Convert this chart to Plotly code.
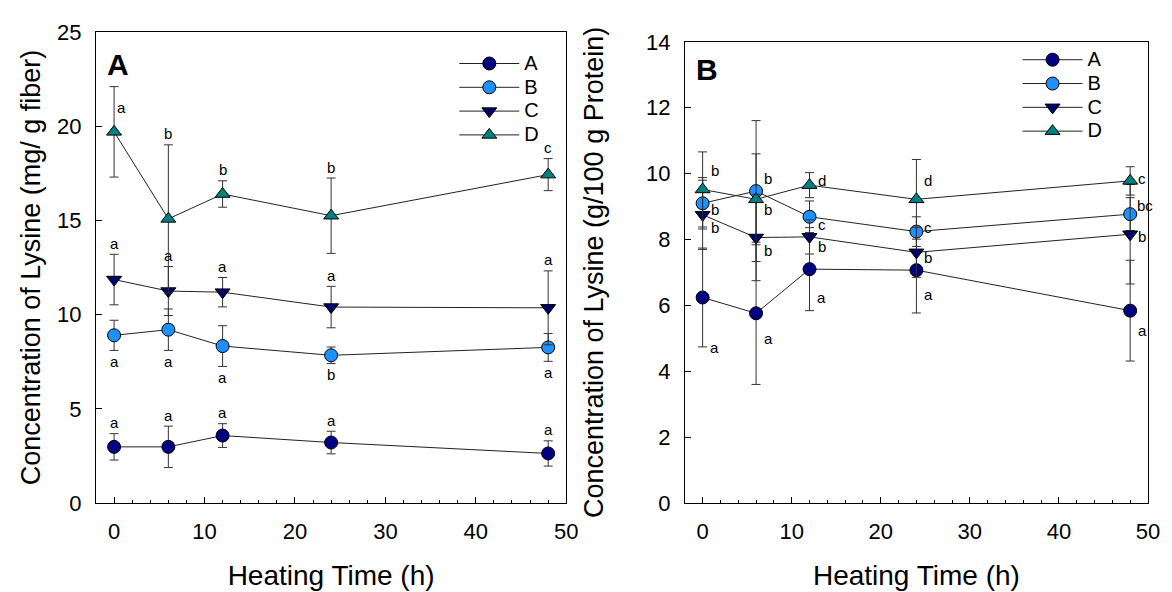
import plotly.graph_objects as go

# heating time (h)
time_h = [0, 6, 12, 24, 48]
groups = ["A", "B", "C", "D"]

# panel A: lysine, mg / g fiber
fiber_mean = {
    "A": [2.98, 2.98, 3.58, 3.21, 2.63],
    "B": [8.90, 9.20, 8.33, 7.84, 8.26],
    "C": [11.86, 11.25, 11.19, 10.40, 10.36],
    "D": [19.70, 15.08, 16.40, 15.25, 17.43],
}
fiber_err = {
    "A": [0.70, 1.10, 0.63, 0.60, 0.67],
    "B": [0.80, 1.10, 1.08, 0.44, 0.74],
    "C": [1.34, 1.30, 0.78, 1.10, 1.96],
    "D": [2.40, 3.93, 0.70, 2.00, 0.85],
}
fiber_letters = {
    "A": ["a", "a", "a", "a", "a"],
    "B": ["a", "a", "a", "b", "a"],
    "C": ["a", "a", "a", "a", "a"],
    "D": ["a", "b", "b", "b", "c"],
}

# panel B: lysine, g / 100 g protein
prot_mean = {
    "A": [6.24, 5.76, 7.10, 7.07, 5.84],
    "B": [9.10, 9.47, 8.69, 8.24, 8.77],
    "C": [8.75, 8.06, 8.08, 7.61, 8.16],
    "D": [9.52, 9.22, 9.65, 9.22, 9.78],
}
prot_err = {
    "A": [1.50, 2.16, 1.26, 1.30, 1.53],
    "B": [0.78, 2.14, 0.48, 0.45, 0.50],
    "C": [1.05, 1.31, 0.52, 0.76, 1.51],
    "D": [1.14, 1.38, 0.38, 1.21, 0.43],
}
prot_letters = {
    "A": ["a", "a", "a", "a", "a"],
    "B": ["b", "b", "c", "c", "bc"],
    "C": ["b", "b", "b", "b", "b"],
    "D": ["b", "b", "d", "d", "c"],
}

# style
FONT = "Liberation Sans, Arial, sans-serif"
colors = {"A": "#000080", "B": "#1E90FF", "C": "#000066", "D": "#008080"}
symbols = {"A": "circle", "B": "circle", "C": "triangle-down", "D": "triangle-up"}
# label offsets (px, screen down positive) used in panel B
prot_dy = {
    "A": [50, 25, 28, 24, 20],
    "B": [6, -13, 8, -4, -9],
    "C": [13, 13, 10, 5, 2],
    "D": [-19, 10, -5, -19, -2],
}

fig = go.Figure()
annos = []

for panel, means, errs, letters, xa, ya, leg in [
    (1, fiber_mean, fiber_err, fiber_letters, "x", "y", "legend"),
    (2, prot_mean, prot_err, prot_letters, "x2", "y2", "legend2"),
]:
    for g in groups:
        # bigger legend text than the row spacing would give
        fig.add_trace(go.Scatter(
            x=time_h, y=means[g], name=f'<span style="font-size:20px">{g}</span>',
            mode="lines+markers", xaxis=xa, yaxis=ya, legend=leg,
            line=dict(color="#222", width=1),
            marker=dict(symbol=symbols[g], size=13, color=colors[g],
                        line=dict(color="black", width=1)),
            error_y=dict(type="data", array=errs[g], color="#333",
                         thickness=1, width=4.5),
        ))
        for i, t in enumerate(time_h):
            m, e, lab = means[g][i], errs[g][i], letters[g][i]
            if panel == 1:
                if g == "B":
                    yv, xs, ys = m - e, 0, -11
                elif g == "D" and i == 0:
                    yv, xs, ys = m + e, 7, -21
                else:
                    yv, xs, ys = m + e, 0, 11
            else:
                yv, xs, ys = m, (15 if len(lab) > 1 else 12), -prot_dy[g][i]
            annos.append(dict(x=t, y=yv, xref=xa, yref=ya, text=lab,
                              showarrow=False, xshift=xs, yshift=ys,
                              font=dict(size=15, color="black", family=FONT)))

annos.append(dict(x=0.02, y=0.971, xref="x domain", yref="y domain", text="<b>A</b>",
                  showarrow=False, xanchor="left", yanchor="top",
                  font=dict(size=30, family=FONT, color="black")))
annos.append(dict(x=0.02, y=0.981, xref="x2 domain", yref="y2 domain", text="<b>B</b>",
                  showarrow=False, xanchor="left", yanchor="top",
                  font=dict(size=30, family=FONT, color="black")))

axis_common = dict(showline=True, linecolor="black", linewidth=1, mirror=True,
                   ticks="inside", ticklen=6, tickcolor="black", showgrid=False,
                   zeroline=False, tickfont=dict(size=22, family=FONT, color="black"),
                   ticklabelstandoff=9)
xcommon = dict(axis_common, range=[-2, 50], tickvals=[0, 10, 20, 30, 40, 50],
               minor=dict(dtick=2, tick0=0, ticks="inside", ticklen=3, tickcolor="black"),
               title=dict(text="Heating Time (h)", font=dict(size=28, family=FONT, color="black"),
                          standoff=21))

# page body has an 8px margin; the bottom 8px simply falls outside the window
fig.update_layout(
    width=1164, height=592,
    margin=dict(l=88, r=20, t=23, b=97),
    paper_bgcolor="white", plot_bgcolor="white",
    font=dict(family=FONT, color="black"),
    showlegend=True,
    xaxis=dict(xcommon, domain=[0, 0.447], anchor="y"),
    yaxis=dict(axis_common, domain=[0, 1], anchor="x", range=[0, 25], dtick=5,
               title=dict(text="Concentration of Lysine (mg/ g fiber)",
                          font=dict(size=27, family=FONT, color="black"), standoff=8)),
    xaxis2=dict(xcommon, domain=[0.5597, 1], anchor="y2"),
    yaxis2=dict(axis_common, domain=[0, 0.979], anchor="x2", range=[0, 14], dtick=2,
                title=dict(text="Concentration of Lysine (g/100 g Protein)",
                           font=dict(size=27, family=FONT, color="black"), standoff=34)),
    legend=dict(x=0.3406, y=0.969, xanchor="left", yanchor="top", bgcolor="rgba(0,0,0,0)",
                itemwidth=60, font=dict(size=16, family=FONT, color="black")),
    legend2=dict(x=0.876, y=0.977, xanchor="left", yanchor="top", bgcolor="rgba(0,0,0,0)",
                 itemwidth=60, font=dict(size=16, family=FONT, color="black")),
    annotations=annos,
)

fig.write_html("out.html")
